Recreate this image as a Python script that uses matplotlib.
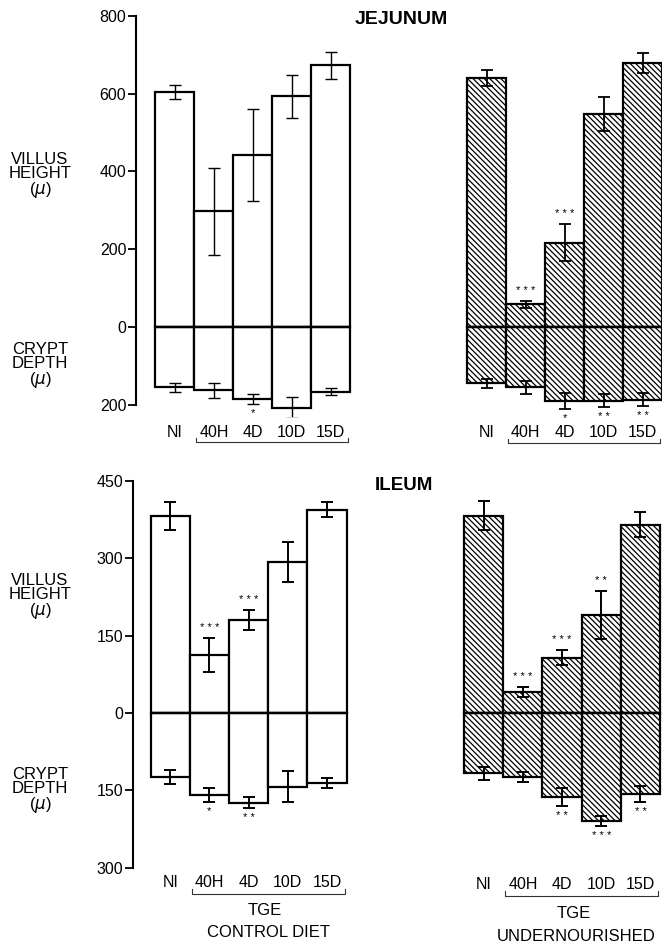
import numpy as np
import matplotlib.pyplot as plt
from matplotlib.ticker import FuncFormatter

plt.rcParams['font.family'] = ['Liberation Sans', 'DejaVu Sans']
plt.rcParams['hatch.linewidth'] = 0.9

groups = ['NI', '40H', '4D', '10D', '15D']

# jejunum, control diet
jej_ctrl_villus = [605, 297, 442, 593, 673]
jej_ctrl_villus_err = [18, 113, 118, 56, 35]
jej_ctrl_crypt = [155, 163, 184, 207, 166]
jej_ctrl_crypt_err = [11, 20, 13, 28, 10]
jej_ctrl_villus_sig = ['', '', '', '', '']
jej_ctrl_crypt_sig = ['', '', '*', '', '']

# jejunum, undernourished
jej_und_villus = [640, 59, 217, 548, 679]
jej_und_villus_err = [20, 9, 48, 43, 25]
jej_und_crypt = [145, 155, 190, 189, 187]
jej_und_crypt_err = [12, 17, 20, 17, 17]
jej_und_villus_sig = ['', '***', '***', '', '']
jej_und_crypt_sig = ['', '', '*', '**', '**']

# ileum, control diet
ile_ctrl_villus = [382, 112, 180, 292, 394]
ile_ctrl_villus_err = [27, 33, 20, 39, 15]
ile_ctrl_crypt = [124, 159, 174, 143, 136]
ile_ctrl_crypt_err = [14, 13, 11, 30, 10]
ile_ctrl_villus_sig = ['', '***', '***', '', '']
ile_ctrl_crypt_sig = ['', '*', '**', '', '']

# ileum, undernourished
ile_und_villus = [382, 40, 107, 190, 365]
ile_und_villus_err = [28, 10, 15, 46, 24]
ile_und_crypt = [117, 124, 163, 210, 157]
ile_und_crypt_err = [12, 10, 17, 10, 16]
ile_und_villus_sig = ['', '***', '***', '**', '']
ile_und_crypt_sig = ['', '', '**', '***', '**']

HATCH = '\\' * 6


def draw_group(ax, x0, villus, verr, crypt, cerr, vsig, csig, hatch, elw):
    x = np.arange(len(groups)) + x0
    crypt = -np.asarray(crypt)
    for vals in (villus, crypt):
        ax.bar(x, vals, width=1.0, facecolor='white', edgecolor='black',
               linewidth=1.6, hatch=hatch, zorder=2)
    ax.hlines(0, x[0] - 0.5, x[-1] + 0.5, color='black', lw=1.7, zorder=3)
    ax.errorbar(x, villus, yerr=verr, fmt='none', ecolor='black',
                elinewidth=elw, capsize=4, capthick=elw, zorder=4)
    ax.errorbar(x, crypt, yerr=cerr, fmt='none', ecolor='black',
                elinewidth=elw, capsize=4, capthick=elw, zorder=4)
    for xi, v, e, s in zip(x, villus, verr, vsig):
        if s:
            ax.annotate(' '.join(s), (xi, v + e), xytext=(0, 7),
                        textcoords='offset points', ha='center',
                        va='center', fontsize=8)
    for xi, c, e, s in zip(x, crypt, cerr, csig):
        if s:
            ax.annotate(' '.join(s), (xi, c - e), xytext=(0, -7),
                        textcoords='offset points', ha='center',
                        va='center', fontsize=8)
    return x


def style_axis(ax, ticks, bound):
    for side in ('top', 'right', 'bottom'):
        ax.spines[side].set_visible(False)
    ax.spines['left'].set_linewidth(1.5)
    ax.spines['left'].set_bounds(-bound[0], bound[1])
    ax.set_yticks(ticks)
    ax.yaxis.set_major_formatter(FuncFormatter(lambda v, p: f'{abs(v):.0f}'))
    ax.tick_params(axis='y', direction='out', length=6, width=1.3,
                   labelsize=11.5, pad=1)
    ax.set_xticks([])


def label_group(ax, x, y_lab, y_br):
    for xi, g in zip(x, groups):
        ax.text(xi, y_lab, g, ha='center', va='center', fontsize=11.5)
    xa, xb = x[1] - 0.45, x[-1] + 0.45
    tick = (y_lab - y_br) * 0.4
    ax.plot([xa, xa, xb, xb], [y_br + tick, y_br, y_br, y_br + tick],
            color='#333333', lw=0.8, clip_on=False)


fig = plt.figure(figsize=(6.62, 9.43), dpi=100)
W, H = 662, 943

# jejunum
ax1 = fig.add_axes([136 / W, 1 - 416.5 / H, 526 / W, 406.5 / H])
ax1.set_xlim(-1.0, 12.5)
ax1.set_ylim(-230, 815)
xl = draw_group(ax1, 0, jej_ctrl_villus, jej_ctrl_villus_err, jej_ctrl_crypt,
                jej_ctrl_crypt_err, jej_ctrl_villus_sig, jej_ctrl_crypt_sig,
                None, 1.0)
xr = draw_group(ax1, 8, jej_und_villus, jej_und_villus_err, jej_und_crypt,
                jej_und_crypt_err, jej_und_villus_sig, jej_und_crypt_sig,
                HATCH, 1.3)
style_axis(ax1, [800, 600, 400, 200, 0, -200], (200, 800))
label_group(ax1, xl, -272, -295)
label_group(ax1, xr, -272, -298)
fig.text(401 / W, 1 - 19 / H, 'JEJUNUM', ha='center', va='center',
         fontsize=14, fontweight='bold')

# ileum
ax2 = fig.add_axes([133 / W, 1 - 878.1 / H, 529 / W, 405.1 / H])
ax2.set_xlim(-0.95, 12.55)
ax2.set_ylim(-320, 465)
xl = draw_group(ax2, 0, ile_ctrl_villus, ile_ctrl_villus_err, ile_ctrl_crypt,
                ile_ctrl_crypt_err, ile_ctrl_villus_sig, ile_ctrl_crypt_sig,
                None, 1.4)
xr = draw_group(ax2, 8, ile_und_villus, ile_und_villus_err, ile_und_crypt,
                ile_und_crypt_err, ile_und_villus_sig, ile_und_crypt_sig,
                HATCH, 1.4)
style_axis(ax2, [450, 300, 150, 0, -150, -300], (300, 450))
label_group(ax2, xl, -328, -350)
label_group(ax2, xr, -332, -354)
fig.text(404 / W, 1 - 485 / H, 'ILEUM', ha='center', va='center',
         fontsize=13.5, fontweight='bold')
ax2.text(2.4, -382, 'TGE', ha='center', va='center', fontsize=12)
ax2.text(2.5, -426, 'CONTROL DIET', ha='center', va='center', fontsize=12)
ax2.text(10.3, -388, 'TGE', ha='center', va='center', fontsize=12)
ax2.text(10.35, -434, 'UNDERNOURISHED', ha='center', va='center', fontsize=12)

# y-axis titles
for yc, txt in [(176, 'VILLUS\nHEIGHT\n($\\mu$)'), (366, 'CRYPT\nDEPTH\n($\\mu$)'),
                (597, 'VILLUS\nHEIGHT\n($\\mu$)'), (791, 'CRYPT\nDEPTH\n($\\mu$)')]:
    fig.text(40 / W, 1 - yc / H, txt, ha='center', va='center', fontsize=12,
             linespacing=0.95, multialignment='center')

fig.savefig('out.png', dpi=100)
